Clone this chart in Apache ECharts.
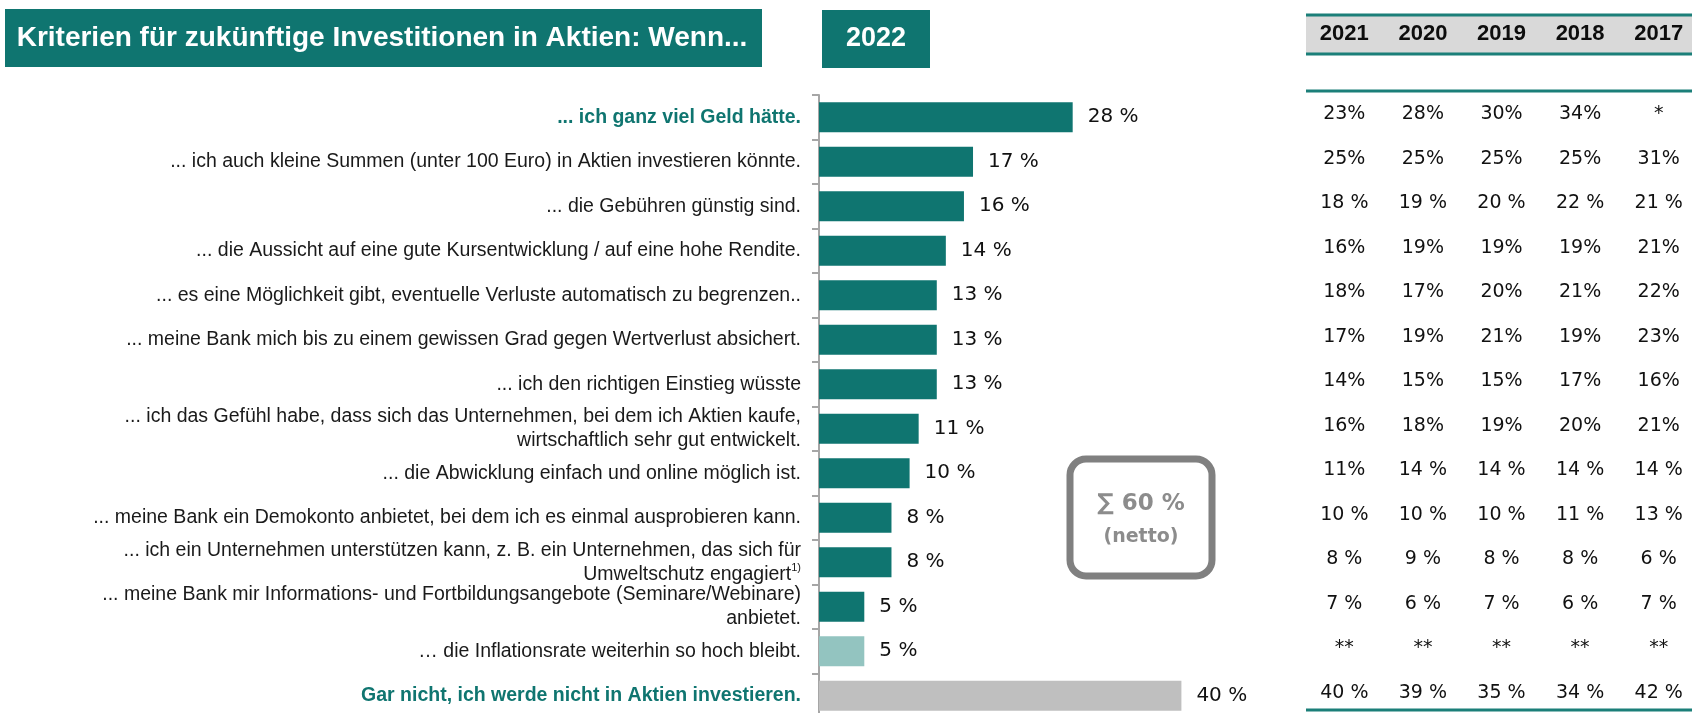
<!DOCTYPE html>
<html>
<head>
    <meta charset="utf-8" />
    <title>Kriterien Aktien</title>
    <script src="https://cdn.jsdelivr.net/npm/echarts@6/dist/echarts.min.js"></script>
    <style>
        html, body { margin: 0; padding: 0; background: #fff; }
        #main { width: 1692px; height: 713px; }
    </style>
</head>
<body>
<div id="main"></div>
<script type="text/javascript">
    // Kategorien (Antworten), von oben nach unten
    var categories = [
        '... ich ganz viel Geld hätte.',
        '... ich auch kleine Summen (unter 100 Euro) in Aktien investieren könnte.',
        '... die Gebühren günstig sind.',
        '... die Aussicht auf eine gute Kursentwicklung / auf eine hohe Rendite.',
        '... es eine Möglichkeit gibt, eventuelle Verluste automatisch zu begrenzen..',
        '... meine Bank mich bis zu einem gewissen Grad gegen Wertverlust absichert.',
        '... ich den richtigen Einstieg wüsste',
        '... ich das Gefühl habe, dass sich das Unternehmen, bei dem ich Aktien kaufe,\nwirtschaftlich sehr gut entwickelt.',
        '... die Abwicklung einfach und online möglich ist.',
        '... meine Bank ein Demokonto anbietet, bei dem ich es einmal ausprobieren kann.',
        '... ich ein Unternehmen unterstützen kann, z. B. ein Unternehmen, das sich für\nUmweltschutz engagiert1)',
        '... meine Bank mir Informations- und Fortbildungsangebote (Seminare/Webinare)\nanbietet.',
        '… die Inflationsrate weiterhin so hoch bleibt.',
        'Gar nicht, ich werde nicht in Aktien investieren.'
    ];

    // Werte 2022 in %
    var values2022 = [28, 17, 16, 14, 13, 13, 13, 11, 10, 8, 8, 5, 5, 40];

    // Vorjahre (Tabelle rechts)
    var years = ['2021', '2020', '2019', '2018', '2017'];
    var col2021 = ['23%', '25%', '18 %', '16%', '18%', '17%', '14%', '16%', '11%', '10 %', '8 %', '7 %', '**', '40 %'];
    var col2020 = ['28%', '25%', '19 %', '19%', '17%', '19%', '15%', '18%', '14 %', '10 %', '9 %', '6 %', '**', '39 %'];
    var col2019 = ['30%', '25%', '20 %', '19%', '20%', '21%', '15%', '19%', '14 %', '10 %', '8 %', '7 %', '**', '35 %'];
    var col2018 = ['34%', '25%', '22 %', '19%', '21%', '19%', '17%', '20%', '14 %', '11 %', '8 %', '6 %', '**', '34 %'];
    var col2017 = ['*', '31%', '21 %', '21%', '22%', '23%', '16%', '21%', '14 %', '13 %', '6 %', '7 %', '**', '42 %'];

    var TEAL = '#0f7570';
    var LINE_TEAL = '#1b7f79';

    var tableCols = [col2021, col2020, col2019, col2018, col2017];
    var tableData = [];
    for (var j = 0; j < tableCols.length; j++) {
        for (var i = 0; i < tableCols[j].length; i++) {
            tableData.push({ value: [j, i], text: tableCols[j][i] });
        }
    }

    var myChart = echarts.init(document.getElementById('main'));

    var option = {
        backgroundColor: '#fff',
        animation: false,
        grid: [
            { left: 819, right: 420, top: 95, bottom: -5, outerBoundsMode: 'none' },   // Balken
            { left: 1305, right: -6, top: 95, bottom: -5, outerBoundsMode: 'none' }    // Tabelle
        ],
        xAxis: [
            { type: 'value', gridIndex: 0, min: 0, max: 50, show: false },
            {
                type: 'category', gridIndex: 1, data: years, position: 'top',
                axisLine: { show: false }, axisTick: { show: false }, splitLine: { show: false },
                axisLabel: {
                    margin: 50,
                    fontFamily: 'Liberation Sans',
                    fontWeight: 'bold',
                    fontSize: 22,
                    color: '#0d0d0d'
                }
            }
        ],
        yAxis: [
            {
                type: 'category', gridIndex: 0, data: categories, inverse: true,
                axisLine: { show: true, lineStyle: { color: '#a6a6a6', width: 2 } },
                axisTick: { show: true, length: 7, lineStyle: { color: '#a6a6a6', width: 2 } },
                axisLabel: {
                    margin: 18,
                    fontFamily: 'Liberation Sans',
                    fontSize: 19.5,
                    lineHeight: 24,
                    color: '#1a1a1a',
                    align: 'right',
                    formatter: function (val, idx) {
                        if (idx === 0 || idx === categories.length - 1) {
                            return '{hl|' + val + '}';
                        }
                        return val.replace(/1\)$/, '{sup|1)}');
                    },
                    rich: {
                        hl: { color: TEAL, fontWeight: 'bold', fontSize: 19.5, fontFamily: 'Liberation Sans' },
                        sup: { fontSize: 11, fontFamily: 'Liberation Sans', color: '#1a1a1a', verticalAlign: 'top', padding: [0, 0, 8, 0] }
                    }
                }
            },
            {
                type: 'category', gridIndex: 1, data: categories, inverse: true, show: false
            }
        ],
        series: [
            {
                type: 'bar',
                xAxisIndex: 0,
                yAxisIndex: 0,
                data: values2022,
                barCategoryGap: '33%',
                itemStyle: {
                    color: function (p) {
                        if (p.dataIndex === 13) return '#bfbfbf';
                        if (p.dataIndex === 12) return '#93c4c0';
                        return TEAL;
                    }
                },
                label: {
                    show: true,
                    position: 'right',
                    distance: 15,
                    fontFamily: 'DejaVu Sans',
                    fontSize: 20,
                    color: '#111',
                    formatter: function (p) { return p.value + ' %'; }
                }
            },
            {
                type: 'scatter',
                xAxisIndex: 1,
                yAxisIndex: 1,
                data: tableData,
                symbolSize: 1,
                itemStyle: { color: 'transparent', opacity: 1 },
                label: {
                    show: true,
                    position: 'inside',
                    offset: [0, -3],
                    opacity: 1,
                    fontFamily: 'DejaVu Sans',
                    fontSize: 19,
                    color: '#111',
                    formatter: function (p) { return p.data.text; }
                }
            }
        ],
        graphic: [
            // Titelkasten
            { type: 'rect', shape: { x: 5, y: 9, width: 757, height: 58 }, style: { fill: TEAL }, z: 1 },
            {
                type: 'text', x: 382, y: 38, z: 2,
                style: {
                    text: 'Kriterien für zukünftige Investitionen in Aktien: Wenn...',
                    fill: '#fff', font: 'bold 28px "Liberation Sans"',
                    textAlign: 'center', textVerticalAlign: 'middle'
                }
            },
            { type: 'rect', shape: { x: 822, y: 10, width: 108, height: 58 }, style: { fill: TEAL }, z: 1 },
            {
                type: 'text', x: 876, y: 39, z: 2,
                style: {
                    text: '2022', fill: '#fff', font: 'bold 27px "Liberation Sans"',
                    textAlign: 'center', textVerticalAlign: 'middle'
                }
            },
            // Tabellenkopf
            { type: 'rect', shape: { x: 1306, y: 15, width: 386, height: 39 }, style: { fill: '#d9d9d9' }, z: 0 },
            { type: 'line', shape: { x1: 1306, y1: 15, x2: 1692, y2: 15 }, style: { stroke: LINE_TEAL, lineWidth: 3 } },
            { type: 'line', shape: { x1: 1306, y1: 54, x2: 1692, y2: 54 }, style: { stroke: LINE_TEAL, lineWidth: 3 } },
            { type: 'line', shape: { x1: 1306, y1: 91, x2: 1692, y2: 91 }, style: { stroke: LINE_TEAL, lineWidth: 3 } },
            { type: 'line', shape: { x1: 1306, y1: 710, x2: 1692, y2: 710 }, style: { stroke: LINE_TEAL, lineWidth: 3 } },
            // Summenkasten
            {
                type: 'rect', shape: { x: 1070, y: 459, width: 142, height: 117, r: 16 },
                style: { fill: '#fff', stroke: '#808080', lineWidth: 7 }, z: 3
            },
            {
                type: 'text', x: 1141, y: 504, z: 4,
                style: {
                    text: '∑ 60 %', fill: '#8c8c8c', font: 'bold 23px "DejaVu Sans"',
                    textAlign: 'center', textVerticalAlign: 'middle'
                }
            },
            {
                type: 'text', x: 1141, y: 537, z: 4,
                style: {
                    text: '(netto)', fill: '#8c8c8c', font: 'bold 19px "DejaVu Sans"',
                    textAlign: 'center', textVerticalAlign: 'middle'
                }
            }
        ]
    };

    myChart.setOption(option);
    window.onresize = myChart.resize;
</script>
</body>
</html>
